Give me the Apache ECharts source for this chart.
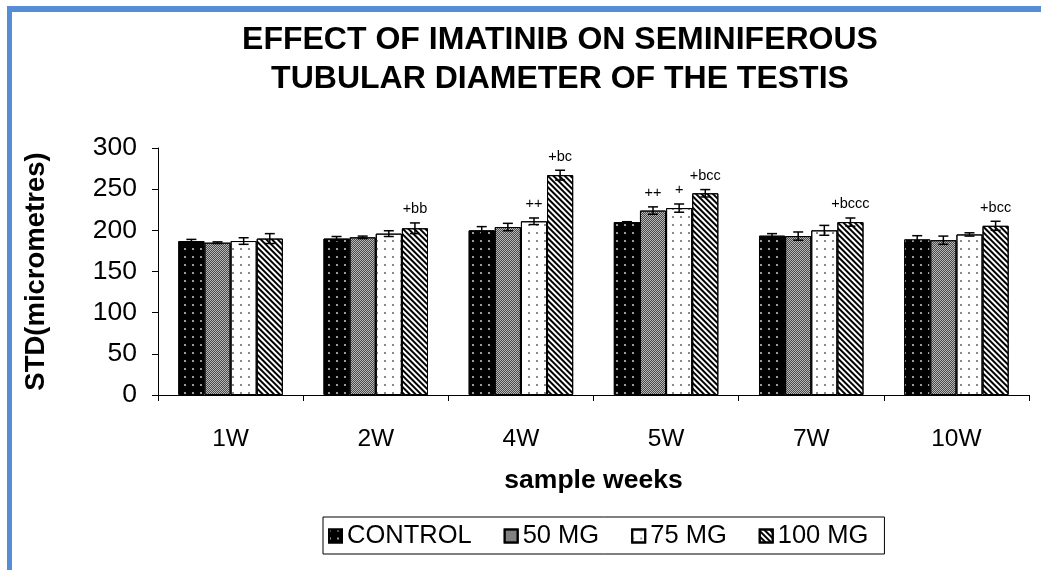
<!DOCTYPE html>
<html>
<head>
<meta charset="utf-8">
<script src="https://cdn.jsdelivr.net/npm/echarts@6/dist/echarts.min.js"></script>
<style>
  html, body { margin: 0; padding: 0; background: #fff; }
  #chart { width: 1041px; height: 570px; }
</style>
</head>
<body>
<div id="chart"></div>
<script>
// data (micrometres)
var weeks = ['1W', '2W', '4W', '5W', '7W', '10W'];
var groupNames = ['CONTROL', '50 MG', '75 MG', '100 MG'];

var control = [187, 190, 200, 210, 193.5, 189];
var mg50 = [185, 191.5, 204, 224, 193, 188];
var mg75 = [187, 196, 211, 227, 200, 195];
var mg100 = [190, 202.5, 267, 245, 210, 205.5];

var errControl = [2, 2.5, 4.5, 0.5, 2.5, 4.5];
var err50 = [1, 1.5, 4.5, 4.5, 5, 5];
var err75 = [4, 3.5, 4, 5, 6, 2];
var err100 = [6, 6.5, 6, 4.5, 5, 5.5];

var lblControl = ['', '', '', '', '', ''];
var lbl50 = ['', '', '', '++', '', ''];
var lbl75 = ['', '', '++', '+', '', ''];
var lbl100 = ['', '+bb', '+bc', '+bcc', '+bccc', '+bcc'];

var yMin = 0;
var yMax = 300;
var yStep = 50;

var FONT = 'Liberation Sans';
var CAT_GAP = 0.28;

var values = [control, mg50, mg75, mg100];
var errors = [errControl, err50, err75, err100];
var labels = [lblControl, lbl50, lbl75, lbl100];

var decals = [
  { symbol: 'rect', color: '#9a9a9a', dashArrayX: [2, 6], dashArrayY: [2, 5.5], symbolSize: 1 },
  { symbol: 'rect', color: '#4a4a4a', dashArrayX: [[1, 1], [0, 1, 1, 0]], dashArrayY: [1, 0], symbolSize: 1 },
  { symbol: 'rect', color: '#8a8a8a', dashArrayX: [2, 6], dashArrayY: [2, 5.5], symbolSize: 1 },
  { symbol: 'rect', color: '#000', dashArrayX: [1, 0], dashArrayY: [2, 2], symbolSize: 1, rotation: Math.PI / 4 }
];
var fills = ['#000', '#b8b8b8', '#fff', '#fff'];

var barSeries = groupNames.map(function (name, i) {
  return {
    name: name,
    type: 'bar',
    data: values[i],
    barGap: 0,
    barCategoryGap: (CAT_GAP * 100) + '%',
    itemStyle: {
      color: fills[i],
      borderColor: '#000',
      borderWidth: 1,
      decal: decals[i]
    }
  };
});

var errData = [];
values.forEach(function (arr, s) {
  arr.forEach(function (v, c) {
    errData.push([c, v, errors[s][c], s]);
  });
});

function renderErr(params, api) {
  var cat = api.value(0);
  var val = api.value(1);
  var err = api.value(2);
  var s = api.value(3);
  var band = api.size([1, 0])[0];
  var barW = band * (1 - CAT_GAP) / groupNames.length;
  var center = api.coord([cat, val]);
  var x = center[0] - barW * groupNames.length / 2 + (s + 0.5) * barW;
  var yTop = api.coord([cat, val + err])[1];
  var yBot = api.coord([cat, val - err])[1];
  var cap = 5;
  var lineStyle = { stroke: '#000', lineWidth: 1.5 };
  var children = [
    { type: 'line', shape: { x1: x, y1: yTop, x2: x, y2: yBot }, style: lineStyle },
    { type: 'line', shape: { x1: x - cap, y1: yTop, x2: x + cap, y2: yTop }, style: lineStyle },
    { type: 'line', shape: { x1: x - cap, y1: yBot, x2: x + cap, y2: yBot }, style: lineStyle }
  ];
  var text = labels[s][cat];
  if (text) {
    children.push({
      type: 'text',
      x: x,
      y: yTop - 6,
      style: {
        text: text,
        align: 'center',
        verticalAlign: 'bottom',
        font: '14.5px "' + FONT + '"',
        fill: '#000'
      }
    });
  }
  return { type: 'group', children: children };
}

var chart = echarts.init(document.getElementById('chart'));
chart.setOption({
  animation: false,
  backgroundColor: '#fff',
  title: {
    text: 'EFFECT OF IMATINIB ON SEMINIFEROUS\nTUBULAR DIAMETER OF THE TESTIS',
    left: 555,
    top: 16,
    textAlign: 'center',
    textStyle: {
      fontFamily: FONT,
      fontSize: 32,
      fontWeight: 'bold',
      color: '#000',
      lineHeight: 39
    }
  },
  graphic: [
    { type: 'rect', shape: { x: 7, y: 6, width: 1034, height: 6 }, style: { fill: '#558ed5' } },
    { type: 'rect', shape: { x: 7, y: 6, width: 5, height: 564 }, style: { fill: '#558ed5' } }
  ],
  legend: {
    data: groupNames,
    left: 323,
    top: 517,
    icon: 'rect',
    itemWidth: 13,
    itemHeight: 13,
    itemGap: 32,
    padding: [6, 16, 5, 5],
    borderColor: '#000',
    borderWidth: 1,
    textStyle: { fontFamily: FONT, fontSize: 25.5, color: '#000' }
  },
  grid: { left: 158, right: 12, top: 148, bottom: 175 },
  xAxis: {
    type: 'category',
    data: weeks,
    name: 'sample weeks',
    nameLocation: 'middle',
    nameGap: 72,
    nameTextStyle: { fontFamily: FONT, fontSize: 26.5, fontWeight: 'bold', color: '#000' },
    axisLine: { lineStyle: { color: '#000', width: 1 } },
    axisTick: { show: true, length: 6, interval: 0, alignWithLabel: false, lineStyle: { color: '#000' } },
    axisLabel: { fontFamily: FONT, fontSize: 24.5, color: '#000', margin: 32, interval: 0 }
  },
  yAxis: {
    type: 'value',
    min: yMin,
    max: yMax,
    interval: yStep,
    name: 'STD(micrometres)',
    nameLocation: 'middle',
    nameGap: 108,
    nameTextStyle: { fontFamily: FONT, fontSize: 27.5, fontWeight: 'bold', color: '#000' },
    axisLine: { show: true, lineStyle: { color: '#000', width: 1 } },
    axisTick: { show: true, length: 6, lineStyle: { color: '#000' } },
    splitLine: { show: false },
    axisLabel: { fontFamily: FONT, fontSize: 26.5, color: '#000', margin: 21 }
  },
  series: barSeries.concat([{
    type: 'custom',
    name: 'error',
    data: errData,
    encode: { x: 0, y: 1 },
    renderItem: renderErr,
    z: 10,
    silent: true
  }])
});
</script>
</body>
</html>
